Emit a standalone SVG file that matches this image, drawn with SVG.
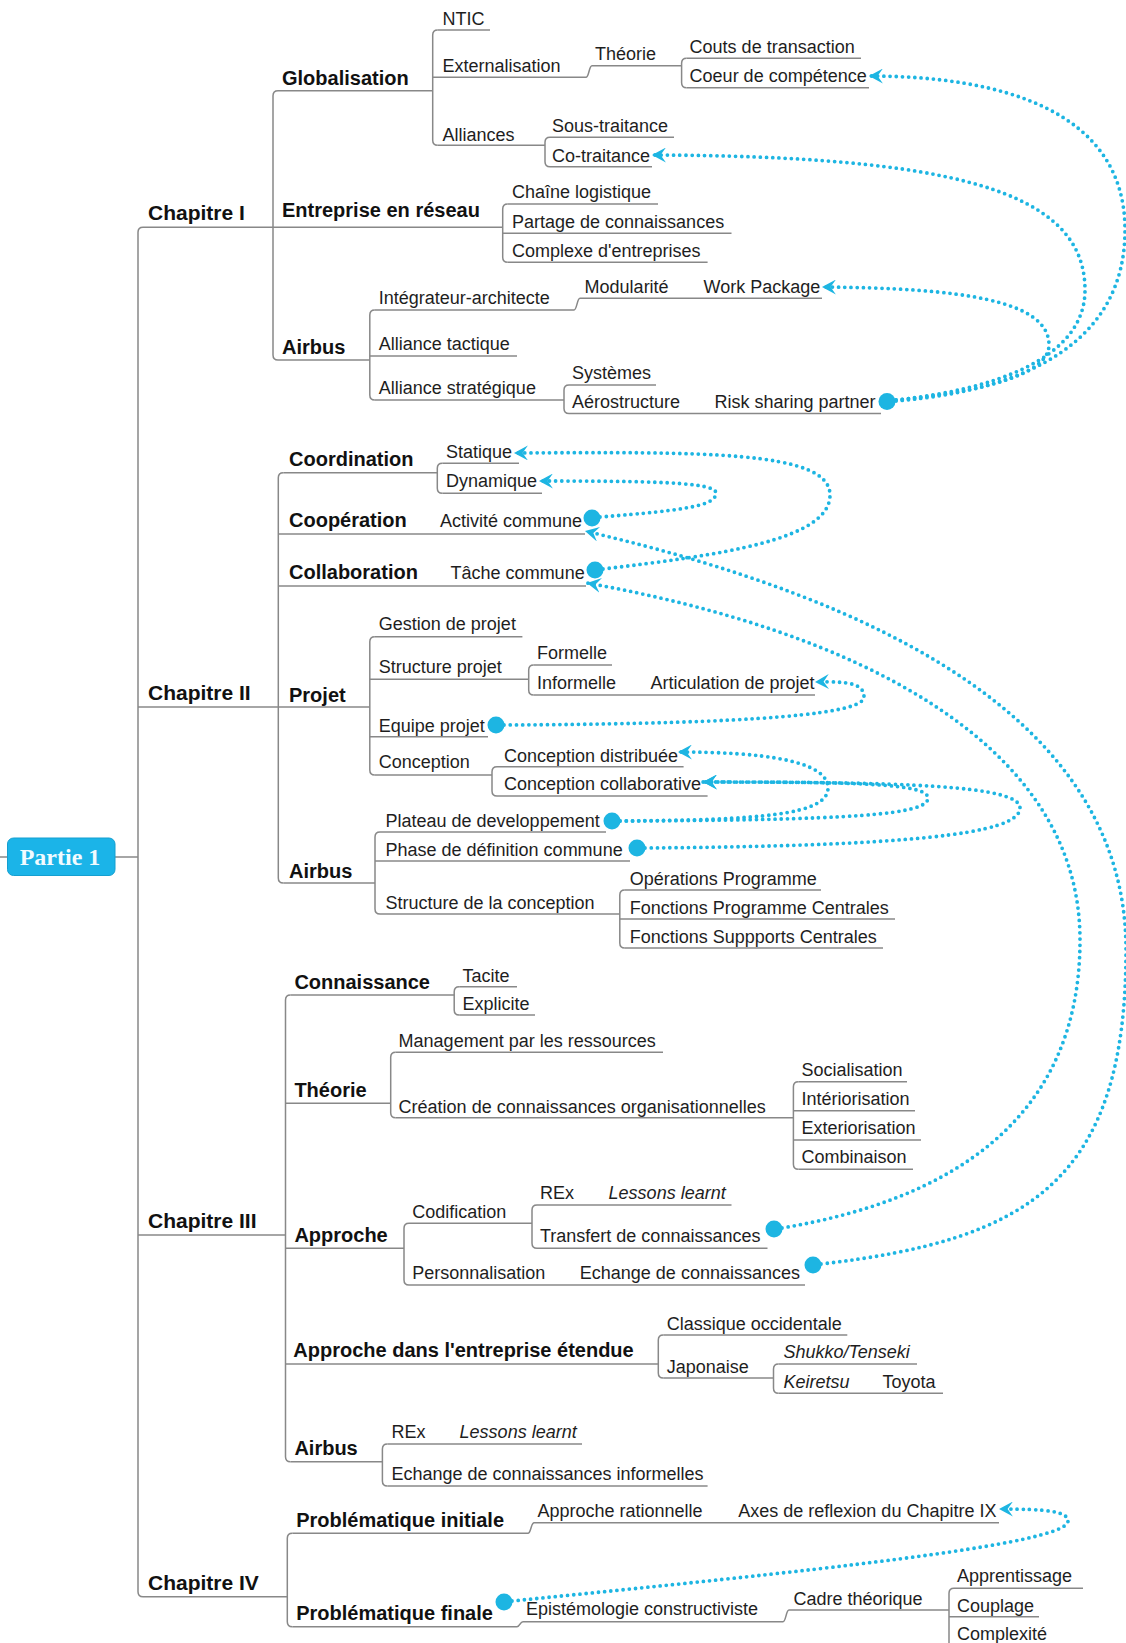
<svg xmlns="http://www.w3.org/2000/svg" width="1126" height="1643" viewBox="0 0 1126 1643">
<style>
.l{fill:none;stroke:#888888;stroke-width:1.5}
.t{font-family:"Liberation Sans",Arial,sans-serif;font-size:18px;fill:#1e1e1e}
.i{font-style:italic}
.b2{font-family:"Liberation Sans",Arial,sans-serif;font-size:20px;font-weight:bold;fill:#111}
.b1{font-family:"Liberation Sans",Arial,sans-serif;font-size:21px;font-weight:bold;fill:#111}
.rel{fill:none;stroke:#1db5e2;stroke-width:3.8;stroke-dasharray:0 6.2;stroke-linecap:round;marker-end:url(#ah)}
.dot{fill:#1db5e2}
</style>
<defs>
<marker id="ah" viewBox="0 0 14 14" refX="13" refY="7" markerWidth="15" markerHeight="15" markerUnits="userSpaceOnUse" orient="auto">
<path d="M0,0 L13,7 L0,14 L5,7 z" fill="#1db5e2"/>
</marker>
</defs>
<rect width="1126" height="1643" fill="#ffffff"/>

<g id="tree-lines">
<path class="l" d="M0 857 H7.5"/>
<path class="l" d="M115 857 H138"/>
<path class="l" d="M143 227.3 Q138 227.3 138 232.3 V1591.7 Q138 1596.7 143 1596.7"/>
<path class="l" d="M278 90.7 Q273 90.7 273 95.7 V355 Q273 360 278 360"/>
<path class="l" d="M437.7 30 Q432.7 30 432.7 35 V140.3 Q432.7 145.3 437.7 145.3"/>
<path class="l" d="M686.6 58.3 Q681.6 58.3 681.6 63.3 V82.7 Q681.6 87.7 686.6 87.7"/>
<path class="l" d="M550 137.3 Q545 137.3 545 142.3 V161.7 Q545 166.7 550 166.7"/>
<path class="l" d="M507.7 204 Q502.7 204 502.7 209 V257.3 Q502.7 262.3 507.7 262.3"/>
<path class="l" d="M374.8 310 Q369.8 310 369.8 315 V395 Q369.8 400 374.8 400"/>
<path class="l" d="M569 385 Q564 385 564 390 V408.5 Q564 413.5 569 413.5"/>
<path class="l" d="M283.3 472.7 Q278.3 472.7 278.3 477.7 V878 Q278.3 883 283.3 883"/>
<path class="l" d="M442.3 463.3 Q437.3 463.3 437.3 468.3 V488.3 Q437.3 493.3 442.3 493.3"/>
<path class="l" d="M374.8 636.7 Q369.8 636.7 369.8 641.7 V770 Q369.8 775 374.8 775"/>
<path class="l" d="M533.7 665 Q528.7 665 528.7 670 V690 Q528.7 695 533.7 695"/>
<path class="l" d="M497 766.7 Q492 766.7 492 771.7 V791 Q492 796 497 796"/>
<path class="l" d="M380 832 Q375 832 375 837 V909 Q375 914 380 914"/>
<path class="l" d="M624.8 890 Q619.8 890 619.8 895 V943 Q619.8 948 624.8 948"/>
<path class="l" d="M290.5 995 Q285.5 995 285.5 1000 V1456.7 Q285.5 1461.7 290.5 1461.7"/>
<path class="l" d="M459.2 986.7 Q454.2 986.7 454.2 991.7 V1010 Q454.2 1015 459.2 1015"/>
<path class="l" d="M395.7 1052.3 Q390.7 1052.3 390.7 1057.3 V1112.7 Q390.7 1117.7 395.7 1117.7"/>
<path class="l" d="M798.4 1081.7 Q793.4 1081.7 793.4 1086.7 V1164.3 Q793.4 1169.3 798.4 1169.3"/>
<path class="l" d="M409 1223.3 Q404 1223.3 404 1228.3 V1280 Q404 1285 409 1285"/>
<path class="l" d="M537 1205 Q532 1205 532 1210 V1243.3 Q532 1248.3 537 1248.3"/>
<path class="l" d="M663.3 1335 Q658.3 1335 658.3 1340 V1373 Q658.3 1378 663.3 1378"/>
<path class="l" d="M778.5 1364 Q773.5 1364 773.5 1369 V1388.3 Q773.5 1393.3 778.5 1393.3"/>
<path class="l" d="M387.4 1444 Q382.4 1444 382.4 1449 V1481 Q382.4 1486 387.4 1486"/>
<path class="l" d="M292.3 1533.3 Q287.3 1533.3 287.3 1538.3 V1621.7 Q287.3 1626.7 292.3 1626.7"/>
<path class="l" d="M954 1588.3 Q949 1588.3 949 1593.3 V1643"/>
</g>

<g id="n-root">
<rect x="7.5" y="838" width="107.5" height="37.5" rx="6" fill="#1bb4e8" stroke="#159fd0" stroke-width="1"/>
<text x="60" y="865" text-anchor="middle" style="font-family:'Liberation Serif','Times New Roman',serif;font-size:24px;font-weight:bold;fill:#f2fbff">Partie 1</text>
</g>

<g id="n-chap1"><text class="b1" x="148" y="220">Chapitre I</text><path class="l" d="M143 227.3 H273"/></g>
<g id="n-globalisation"><text class="b2" x="282" y="85">Globalisation</text><path class="l" d="M278 90.7 H432.7"/></g>
<g id="n-ntic"><text class="t" x="442.4" y="24.5">NTIC</text><path class="l" d="M437.7 30 H490"/></g>
<g id="n-externalisation"><text class="t" x="442.4" y="71.5">Externalisation</text><path class="l" d="M432.7 77.3 H586 C589 77.3 589 65.7 592 65.7"/></g>
<g id="n-theorie1"><text class="t" x="595" y="60">Théorie</text><path class="l" d="M592 65.7 H681.6"/></g>
<g id="n-couts"><text class="t" x="689.6" y="53">Couts de transaction</text><path class="l" d="M686.6 58.3 H861"/></g>
<g id="n-coeur"><text class="t" x="689.6" y="82.3">Coeur de compétence</text><path class="l" d="M686.6 87.7 H869"/></g>
<g id="n-alliances"><text class="t" x="442.4" y="140.5">Alliances</text><path class="l" d="M437.7 145.3 H545"/></g>
<g id="n-soustraitance"><text class="t" x="552" y="131.7">Sous-traitance</text><path class="l" d="M550 137.3 H674"/></g>
<g id="n-cotraitance"><text class="t" x="552" y="161.5">Co-traitance</text><path class="l" d="M550 166.7 H652"/></g>
<g id="n-entreprise"><text class="b2" x="282" y="217">Entreprise en réseau</text><path class="l" d="M273 227.3 H502.7"/></g>
<g id="n-chaine"><text class="t" x="512" y="198.3">Chaîne logistique</text><path class="l" d="M507.7 204 H658"/></g>
<g id="n-partage"><text class="t" x="512" y="227.8">Partage de connaissances</text><path class="l" d="M502.7 233.3 H731.5"/></g>
<g id="n-complexe"><text class="t" x="512" y="256.7">Complexe d'entreprises</text><path class="l" d="M507.7 262.3 H707.6"/></g>
<g id="n-airbus1"><text class="b2" x="282" y="353.5">Airbus</text><path class="l" d="M278 360 H369.8"/></g>
<g id="n-integrateur"><text class="t" x="378.8" y="303.5">Intégrateur-architecte</text><path class="l" d="M374.8 310 H574 C577 310 577 298.3 580 298.3"/></g>
<g id="n-modularite"><text class="t" x="584.6" y="292.7">Modularité</text><path class="l" d="M580 298.3 H700"/></g>
<g id="n-workpackage"><text class="t" x="703.6" y="292.7">Work Package</text><path class="l" d="M700 298.3 H822"/></g>
<g id="n-tactique"><text class="t" x="378.8" y="350">Alliance tactique</text><path class="l" d="M369.8 356 H517"/></g>
<g id="n-strategique"><text class="t" x="378.8" y="394.3">Alliance stratégique</text><path class="l" d="M374.8 400 H564"/></g>
<g id="n-systemes"><text class="t" x="572" y="379.3">Systèmes</text><path class="l" d="M569 385 H656"/></g>
<g id="n-aerostructure"><text class="t" x="572" y="408.3">Aérostructure</text><path class="l" d="M569 413.5 H700"/></g>
<g id="n-risk"><text class="t" x="714.4" y="408.3">Risk sharing partner</text><path class="l" d="M700 413.5 H881"/></g>

<g id="n-chap2"><text class="b1" x="148" y="699.5">Chapitre II</text><path class="l" d="M138 707 H278.3"/></g>
<g id="n-coordination"><text class="b2" x="289" y="465.5">Coordination</text><path class="l" d="M283.3 472.7 H437.3"/></g>
<g id="n-statique"><text class="t" x="446" y="458.3">Statique</text><path class="l" d="M442.3 463.3 H519"/></g>
<g id="n-dynamique"><text class="t" x="446" y="487">Dynamique</text><path class="l" d="M442.3 493.3 H542"/></g>
<g id="n-cooperation"><text class="b2" x="289" y="527">Coopération</text><path class="l" d="M278.3 534 H440"/></g>
<g id="n-activite"><text class="t" x="440" y="527">Activité commune</text><path class="l" d="M440 534 H585"/></g>
<g id="n-collaboration"><text class="b2" x="289" y="578.5">Collaboration</text><path class="l" d="M278.3 586 H450"/></g>
<g id="n-tache"><text class="t" x="450.6" y="578.5">Tâche commune</text><path class="l" d="M450 586 H586"/></g>
<g id="n-projet"><text class="b2" x="289" y="701.5">Projet</text><path class="l" d="M278.3 707 H369.8"/></g>
<g id="n-gestion"><text class="t" x="378.8" y="630">Gestion de projet</text><path class="l" d="M374.8 636.7 H522.4"/></g>
<g id="n-structureprojet"><text class="t" x="378.8" y="673.3">Structure projet</text><path class="l" d="M369.8 679.3 H528.7"/></g>
<g id="n-formelle"><text class="t" x="537" y="659.3">Formelle</text><path class="l" d="M533.7 665 H612"/></g>
<g id="n-informelle"><text class="t" x="537" y="688.5">Informelle</text><path class="l" d="M533.7 695 H650"/></g>
<g id="n-articulation"><text class="t" x="650.5" y="688.5">Articulation de projet</text><path class="l" d="M650 695 H815"/></g>
<g id="n-equipe"><text class="t" x="378.8" y="731.5">Equipe projet</text><path class="l" d="M369.8 736.7 H488"/></g>
<g id="n-conception"><text class="t" x="378.8" y="768.3">Conception</text><path class="l" d="M374.8 775 H492"/></g>
<g id="n-conc-distribuee"><text class="t" x="504" y="761.5">Conception distribuée</text><path class="l" d="M497 766.7 H683.6"/></g>
<g id="n-conc-collab"><text class="t" x="504" y="790">Conception collaborative</text><path class="l" d="M497 796 H707.6"/></g>
<g id="n-airbus2"><text class="b2" x="289" y="878">Airbus</text><path class="l" d="M283.3 883 H375"/></g>
<g id="n-plateau"><text class="t" x="385.5" y="826.5">Plateau de developpement</text><path class="l" d="M380 832 H606"/></g>
<g id="n-phase"><text class="t" x="385.5" y="855.5">Phase de définition commune</text><path class="l" d="M375 861 H630"/></g>
<g id="n-structureconc"><text class="t" x="385.5" y="908.5">Structure de la conception</text><path class="l" d="M380 914 H619.8"/></g>
<g id="n-operations"><text class="t" x="629.7" y="884.5">Opérations Programme</text><path class="l" d="M624.8 890 H821"/></g>
<g id="n-fpc"><text class="t" x="629.7" y="913.5">Fonctions Programme Centrales</text><path class="l" d="M619.8 919 H895"/></g>
<g id="n-fsc"><text class="t" x="629.7" y="942.5">Fonctions Suppports Centrales</text><path class="l" d="M624.8 948 H883"/></g>

<g id="n-chap3"><text class="b1" x="148" y="1228">Chapitre III</text><path class="l" d="M138 1235 H285.5"/></g>
<g id="n-connaissance"><text class="b2" x="294.4" y="988.5">Connaissance</text><path class="l" d="M290.5 995 H454.2"/></g>
<g id="n-tacite"><text class="t" x="462.5" y="981.5">Tacite</text><path class="l" d="M459.2 986.7 H517"/></g>
<g id="n-explicite"><text class="t" x="462.5" y="1010">Explicite</text><path class="l" d="M459.2 1015 H535"/></g>
<g id="n-theorie2"><text class="b2" x="294.4" y="1096.7">Théorie</text><path class="l" d="M285.5 1103.3 H390.7"/></g>
<g id="n-management"><text class="t" x="398.6" y="1046.7">Management par les ressources</text><path class="l" d="M395.7 1052.3 H663"/></g>
<g id="n-creation"><text class="t" x="398.6" y="1112.5">Création de connaissances organisationnelles</text><path class="l" d="M395.7 1117.7 H793.4"/></g>
<g id="n-socialisation"><text class="t" x="801.4" y="1075.5">Socialisation</text><path class="l" d="M798.4 1081.7 H907"/></g>
<g id="n-interiorisation"><text class="t" x="801.4" y="1105">Intériorisation</text><path class="l" d="M793.4 1110.7 H915"/></g>
<g id="n-exteriorisation"><text class="t" x="801.4" y="1134">Exteriorisation</text><path class="l" d="M793.4 1140 H921"/></g>
<g id="n-combinaison"><text class="t" x="801.4" y="1163.3">Combinaison</text><path class="l" d="M798.4 1169.3 H913"/></g>
<g id="n-approche"><text class="b2" x="294.4" y="1242">Approche</text><path class="l" d="M285.5 1248.3 H404"/></g>
<g id="n-codification"><text class="t" x="412.2" y="1217.7">Codification</text><path class="l" d="M409 1223.3 H532"/></g>
<g id="n-rex1"><text class="t" x="540" y="1199.3">REx</text><path class="l" d="M537 1205 H608"/></g>
<g id="n-lessons1"><text class="t i" x="608.6" y="1199.3">Lessons learnt</text><path class="l" d="M608 1205 H731.5"/></g>
<g id="n-transfert"><text class="t" x="540" y="1241.7">Transfert de connaissances</text><path class="l" d="M537 1248.3 H767.5"/></g>
<g id="n-personnalisation"><text class="t" x="412.2" y="1278.5">Personnalisation</text><path class="l" d="M409 1285 H579"/></g>
<g id="n-echange"><text class="t" x="579.8" y="1278.5">Echange de connaissances</text><path class="l" d="M579 1285 H805"/></g>
<g id="n-ade"><text class="b2" x="293.3" y="1357.3">Approche dans l'entreprise étendue</text><path class="l" d="M285.5 1364 H658.3"/></g>
<g id="n-classique"><text class="t" x="666.7" y="1330">Classique occidentale</text><path class="l" d="M663.3 1335 H847.3"/></g>
<g id="n-japonaise"><text class="t" x="666.7" y="1372.5">Japonaise</text><path class="l" d="M663.3 1378 H773.5"/></g>
<g id="n-shukko"><text class="t i" x="783.4" y="1358.3">Shukko/Tenseki</text><path class="l" d="M778.5 1364 H917"/></g>
<g id="n-keiretsu"><text class="t i" x="783.4" y="1388.3">Keiretsu</text><path class="l" d="M778.5 1393.3 H882"/></g>
<g id="n-toyota"><text class="t" x="882.4" y="1388.3">Toyota</text><path class="l" d="M882 1393.3 H943"/></g>
<g id="n-airbus3"><text class="b2" x="294.4" y="1455">Airbus</text><path class="l" d="M290.5 1461.7 H382.4"/></g>
<g id="n-rex2"><text class="t" x="391.4" y="1437.7">REx</text><path class="l" d="M387.4 1444 H459"/></g>
<g id="n-lessons2"><text class="t i" x="459.6" y="1437.7">Lessons learnt</text><path class="l" d="M459 1444 H582"/></g>
<g id="n-echange-inf"><text class="t" x="391.4" y="1480">Echange de connaissances informelles</text><path class="l" d="M387.4 1486 H707.6"/></g>

<g id="n-chap4"><text class="b1" x="148" y="1590">Chapitre IV</text><path class="l" d="M143 1596.7 H287.3"/></g>
<g id="n-probinit"><text class="b2" x="296.2" y="1527">Problématique initiale</text><path class="l" d="M292.3 1533.3 H528 C531 1533.3 531 1522.7 534 1522.7"/></g>
<g id="n-rationnelle"><text class="t" x="537.5" y="1516.7">Approche rationnelle</text><path class="l" d="M534 1522.7 H738"/></g>
<g id="n-axes"><text class="t" x="738.3" y="1516.7">Axes de reflexion du Chapitre IX</text><path class="l" d="M738 1522.7 H999"/></g>
<g id="n-probfinale"><text class="b2" x="296.2" y="1620">Problématique finale</text><path class="l" d="M292.3 1626.7 H517 C520 1626.7 520 1621.7 523 1621.7"/></g>
<g id="n-epistemologie"><text class="t" x="526" y="1615">Epistémologie constructiviste</text><path class="l" d="M523 1621.7 H783 C786 1621.7 786 1610 789 1610"/></g>
<g id="n-cadre"><text class="t" x="793.4" y="1605">Cadre théorique</text><path class="l" d="M789 1610 H949"/></g>
<g id="n-apprentissage"><text class="t" x="957" y="1581.7">Apprentissage</text><path class="l" d="M954 1588.3 H1083"/></g>
<g id="n-couplage"><text class="t" x="957" y="1611.5">Couplage</text><path class="l" d="M949 1616.7 H1039"/></g>
<g id="n-complexite"><text class="t" x="957" y="1640">Complexité</text></g>

<g id="relationships">
<path class="rel" d="M896 401 C1030 390 1125 340 1125 230 C1125 110 1000 76 869 76"/>
<path class="rel" d="M896 400 C990 390 1085 360 1085 290 C1085 190 950 156 652 155"/>
<path class="rel" d="M896 400 C980 392 1049 375 1049 345 C1049 300 960 288 822 287"/>
<path class="rel" d="M600 517 C690 510 716 505 716 493 C716 482 650 481 539 481"/>
<path class="rel" d="M603 569 C720 555 830 540 830 495 C830 450 700 452 514 453"/>
<path class="rel" d="M821 1264 C1030 1240 1126 1180 1126 950 C1126 720 880 600 585 531"/>
<path class="rel" d="M782 1228 C950 1200 1080 1120 1080 940 C1080 740 850 630 587 583"/>
<path class="rel" d="M504 725 C700 724 864 718 864 697 C864 684 850 681 815 682"/>
<path class="rel" d="M620 821 C760 820 828 815 828 788 C828 760 760 752 678 752"/>
<path class="rel" d="M620 821 C850 820 928 815 928 798 C928 783 850 782 703 782"/>
<path class="rel" d="M645 848 C900 846 1020 835 1020 808 C1020 785 900 782 703 782"/>
<path class="rel" d="M512 1601 C800 1572 1068 1545 1068 1521 C1068 1511 1045 1509 999 1509"/>
<circle class="dot" cx="887" cy="401.5" r="8.5"/>
<circle class="dot" cx="592" cy="518" r="8.5"/>
<circle class="dot" cx="595" cy="570" r="8.5"/>
<circle class="dot" cx="496" cy="725" r="8.5"/>
<circle class="dot" cx="612" cy="821" r="8.5"/>
<circle class="dot" cx="637" cy="848" r="8.5"/>
<circle class="dot" cx="774" cy="1229" r="8.5"/>
<circle class="dot" cx="813" cy="1265" r="8.5"/>
<circle class="dot" cx="504" cy="1602" r="8.5"/>
</g>
</svg>
